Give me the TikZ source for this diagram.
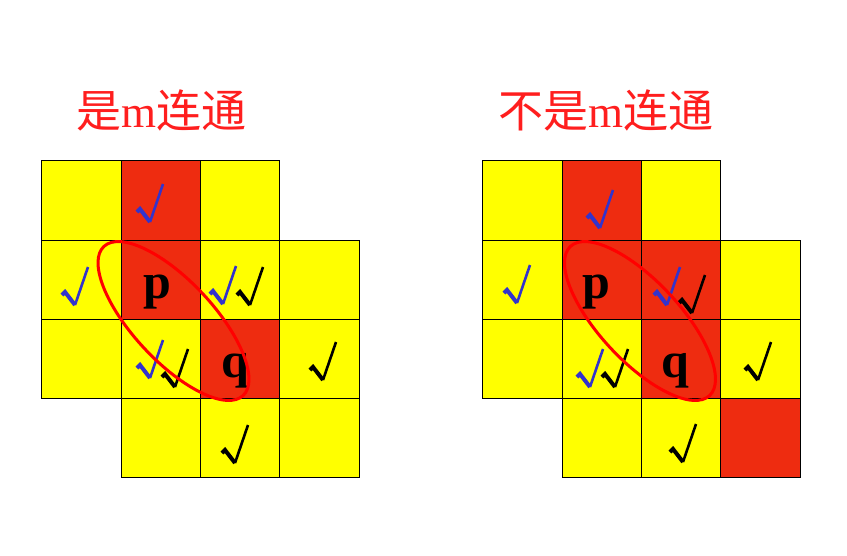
\documentclass[tikz,border=0pt]{standalone}
\usepackage{fontspec}
\setmainfont{Liberation Serif}
\newfontfamily\cjk{Noto Sans CJK SC}
\usetikzlibrary{calc}
\definecolor{cellred}{RGB}{238,44,16}
\definecolor{cellyel}{RGB}{255,255,0}
\definecolor{chkblue}{RGB}{51,51,204}
\definecolor{ttlred}{RGB}{255,30,30}
\tikzset{
  cell/.style={draw=black,line width=1pt},
  lbl/.style={inner sep=0pt,anchor=base,font=\fontsize{50}{50}\selectfont\bfseries},
  ttl/.style={inner sep=0pt,anchor=base west,text=ttlred,font=\fontsize{45}{45}\selectfont},
  ring/.style={draw=red,line width=3pt},
  chkA/.style={line width=4pt,line cap=butt},
  chkB/.style={line width=2.6pt,line cap=butt}
}
\newcommand\cellbox[5]{\filldraw[cell,fill=#5] (#1,#2) rectangle (#3,#4);}
\newcommand\chk[3]{%
  \draw[chkA,#3] ($(#1,#2)+(-13,-10)$) -- ($(#1,#2)+(-10,-13)$) -- (#1,#2);
  \draw[chkB,#3] (#1,#2) -- ++(13,-38);}
\begin{document}
\begin{tikzpicture}[x=1pt,y=-1pt]
\useasboundingbox (0,0) rectangle (847,555);
% ---------- left grid
\cellbox{41}{160}{121}{240}{cellyel}
\cellbox{121}{160}{200}{240}{cellred}
\cellbox{200}{160}{279}{240}{cellyel}
\cellbox{41}{240}{121}{319}{cellyel}
\cellbox{121}{240}{200}{319}{cellred}
\cellbox{200}{240}{279}{319}{cellyel}
\cellbox{279}{240}{359}{319}{cellyel}
\cellbox{41}{319}{121}{398}{cellyel}
\cellbox{121}{319}{200}{398}{cellyel}
\cellbox{200}{319}{279}{398}{cellred}
\cellbox{279}{319}{359}{398}{cellyel}
\cellbox{121}{398}{200}{477}{cellyel}
\cellbox{200}{398}{279}{477}{cellyel}
\cellbox{279}{398}{359}{477}{cellyel}
\node[lbl] (p1) at (157,298) {p};
\node[lbl] (q1) at (235,377) {q};
\chk{150}{222}{chkblue}
\chk{75}{305}{chkblue}
\chk{223}{304}{chkblue}
\chk{250}{305}{black}
\chk{150}{378}{chkblue}
\chk{175}{387}{black}
\chk{323}{380}{black}
\chk{235}{463}{black}
\draw[ring] (173.5,321) ellipse[x radius=102,y radius=40,rotate=-47];
\node[ttl] (t1) at (76,127) {{\cjk 是}m{\cjk 连通}};
% ---------- right grid
\cellbox{482}{160}{562}{240}{cellyel}
\cellbox{562}{160}{641}{240}{cellred}
\cellbox{641}{160}{720}{240}{cellyel}
\cellbox{482}{240}{562}{319}{cellyel}
\cellbox{562}{240}{641}{319}{cellred}
\cellbox{641}{240}{720}{319}{cellred}
\cellbox{720}{240}{800}{319}{cellyel}
\cellbox{482}{319}{562}{398}{cellyel}
\cellbox{562}{319}{641}{398}{cellyel}
\cellbox{641}{319}{720}{398}{cellred}
\cellbox{720}{319}{800}{398}{cellyel}
\cellbox{562}{398}{641}{477}{cellyel}
\cellbox{641}{398}{720}{477}{cellyel}
\cellbox{720}{398}{800}{477}{cellred}
\node[lbl] (p2) at (596,298) {p};
\node[lbl] (q2) at (675,377) {q};
\chk{600}{228}{chkblue}
\chk{517}{303}{chkblue}
\chk{667}{305}{chkblue}
\chk{692}{313}{black}
\chk{590}{387}{chkblue}
\chk{615}{387}{black}
\chk{758}{380}{black}
\chk{683}{462}{black}
\draw[ring] (640,321) ellipse[x radius=102,y radius=40,rotate=-47];
\node[ttl] (t2) at (498,127) {{\cjk 不是}m{\cjk 连通}};
\end{tikzpicture}
\end{document}
